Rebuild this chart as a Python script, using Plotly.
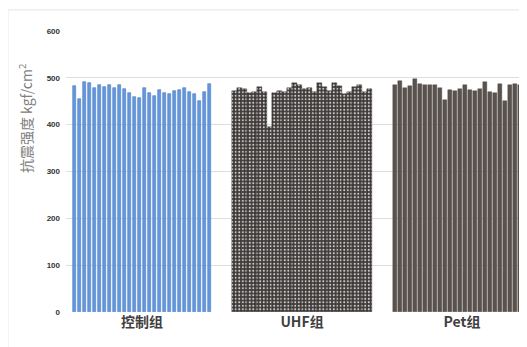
import plotly.graph_objects as go

categories = ["控制组", "UHF组", "Pet组"]
y_ticks = [0, 100, 200, 300, 400, 500, 600]

control_vals = [483, 455, 491, 490, 478, 484, 480, 485, 478, 484, 476, 468, 460, 458,
                478, 468, 462, 475, 468, 465, 472, 475, 478, 470, 465, 450, 470, 487]
uhf_vals = [472, 478, 476, 468, 470, 480, 470, 395, 468, 472, 470, 478, 490, 485,
            476, 478, 470, 488, 480, 472, 488, 482, 466, 470, 480, 484, 470, 476]
pet_vals = [485, 493, 478, 482, 497, 486, 484, 485, 484, 478, 452, 474, 472, 476,
            485, 474, 472, 476, 491, 470, 468, 487, 450, 484, 486, 485, 495, 474]

group_start = [0, 32, 64]

def xs(start, n):
    return [start + i for i in range(n)]

fig = go.Figure()
fig.add_trace(go.Bar(
    x=xs(group_start[0], len(control_vals)), y=control_vals, width=0.78,
    marker=dict(color="#6497dc", line=dict(color="#4a7cc2", width=0.6)),
    showlegend=False))
fig.add_trace(go.Bar(
    x=xs(group_start[1], len(uhf_vals)), y=uhf_vals, width=0.82,
    marker=dict(color="#3b3737", line=dict(color="#2e2a2a", width=0.4),
                pattern=dict(shape=".", fgcolor="#d0ccc8", bgcolor="#3b3737",
                             size=3.5, solidity=0.3, fillmode="replace")),
    showlegend=False))
fig.add_trace(go.Bar(
    x=xs(group_start[2], len(pet_vals)), y=pet_vals, width=0.8,
    marker=dict(color="#5a524e", line=dict(color="#4a4340", width=0.4)),
    showlegend=False))

centers = [s + (len(v) - 1) / 2 for s, v in zip(group_start, [control_vals, uhf_vals, pet_vals])]

fig.update_layout(
    width=519, height=339,
    margin=dict(l=58, r=0, t=23, b=35),
    paper_bgcolor="white", plot_bgcolor="white",
    bargap=0,
    xaxis=dict(range=[-1.7, 90.5], tickvals=centers, ticktext=categories,
               showgrid=False, zeroline=False, showline=False, ticks="",
               automargin=False,
               tickfont=dict(family="Noto Sans CJK SC", size=14, color="#404040",
                             weight="bold")),
    yaxis=dict(range=[0, 600], tickvals=y_ticks, showgrid=True, gridcolor="#dedede",
               gridwidth=1, zeroline=False, showline=False, ticks="",
               ticklabelstandoff=5, automargin=False,
               tickfont=dict(family="Liberation Sans", size=8, color="#333333",
                             weight="bold")),
    annotations=[dict(text="抗震强度 kgf/cm<sup>2</sup>", textangle=-90,
                      xref="paper", yref="paper", x=-0.089, y=0.69,
                      showarrow=False, xanchor="center", yanchor="middle",
                      font=dict(family="Noto Sans CJK SC", size=14, color="#808080"))],
    shapes=[dict(type="line", xref="paper", yref="paper", x0=-0.126, x1=1.0,
                 y0=1.075, y1=1.075, line=dict(color="#e4e4e4", width=1)),
            dict(type="line", xref="paper", yref="paper", x0=-0.126, x1=-0.126,
                 y0=-0.13, y1=1.075, line=dict(color="#e4e4e4", width=1))],
)
fig.write_html("out.html")
